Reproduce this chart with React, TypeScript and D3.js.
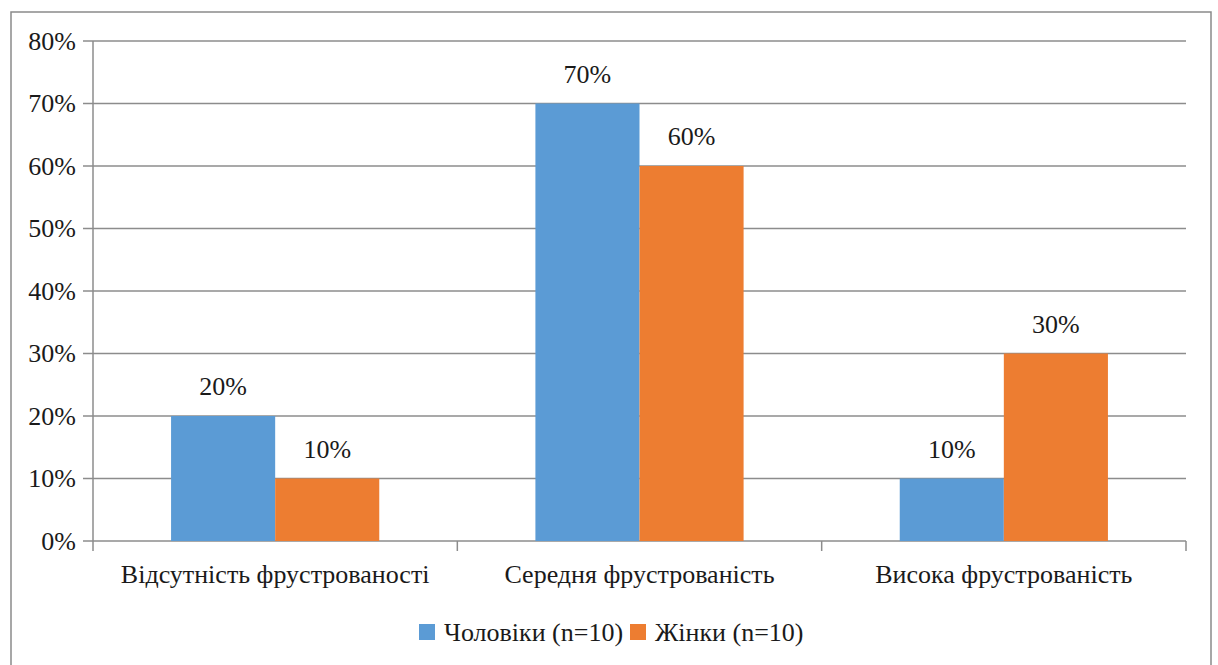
import React from "react";
import * as d3 from "d3";

const categories = ["Відсутність фрустрованості", "Середня фрустрованість", "Висока фрустрованість"];
const seriesNames = ["Чоловіки (n=10)", "Жінки (n=10)"];
const men = [0.2, 0.7, 0.1];
const women = [0.1, 0.6, 0.3];
const yTicks = [0, 0.1, 0.2, 0.3, 0.4, 0.5, 0.6, 0.7, 0.8];
const colors = ["#5B9BD5", "#ED7D31"];

const W = 1218;
const H = 665;
const margin = { left: 93, right: 32, top: 41, bottom: 124 };
const textStyle = { fontFamily: '"Liberation Serif"' };

export default function App() {
  const plotW = W - margin.left - margin.right;
  const plotH = H - margin.top - margin.bottom;
  const x = d3.scaleBand<string>().domain(categories).range([0, plotW]);
  const inner = d3
    .scaleBand<number>()
    .domain([0, 1])
    .range([0, x.bandwidth()])
    .paddingOuter(0.75)
    .paddingInner(0);
  const y = d3.scaleLinear().domain([0, 0.8]).range([plotH, 0]);
  const fmt = d3.format(".0%");
  const series = [men, women];
  const grid = "#8c8c8c";
  const fs = 26;
  const ink = "#1a1a1a";

  return (
    <svg width={W} height={H} style={{ position: "absolute", left: 0, top: 0, background: "#fff" }}>
      <rect x={11} y={12} width={1200} height={670} fill="#fff" stroke="#8a8a8a" strokeWidth={1.5} />
      <g transform={`translate(${margin.left},${margin.top})`}>
        {yTicks.map((t) => (
          <g key={t}>
            <line x1={-10} x2={plotW} y1={y(t)} y2={y(t)} stroke={grid} strokeWidth={1.5} />
            <text x={-17} y={y(t)} dy="0.33em" textAnchor="end" fontSize={fs} fill={ink} style={textStyle}>
              {fmt(t)}
            </text>
          </g>
        ))}
        <line x1={0} x2={0} y1={0} y2={plotH + 10} stroke={grid} strokeWidth={1.5} />
        {categories.map((c) => (
          <line key={c} x1={x(c)! + x.bandwidth()} x2={x(c)! + x.bandwidth()} y1={plotH} y2={plotH + 10} stroke={grid} strokeWidth={1.5} />
        ))}
        {categories.map((c, i) =>
          series.map((s, k) => {
            const bx = x(c)! + inner(k)!;
            return (
              <g key={c + k}>
                <rect x={bx} y={y(s[i])} width={inner.bandwidth()} height={plotH - y(s[i])} fill={colors[k]} />
                <text x={bx + inner.bandwidth() / 2} y={y(s[i]) - 21} textAnchor="middle" fontSize={fs} fill={ink} style={textStyle}>
                  {fmt(s[i])}
                </text>
              </g>
            );
          })
        )}
        {categories.map((c) => (
          <text key={c} x={x(c)! + x.bandwidth() / 2} y={plotH + 42} textAnchor="middle" fontSize={fs} fill={ink} style={textStyle}>
            {c}
          </text>
        ))}
      </g>
      <g>
        <rect x={419} y={624} width={16} height={16} fill={colors[0]} />
        <text x={444} y={641} fontSize={fs} fill={ink} style={textStyle}>{seriesNames[0]}</text>
        <rect x={630} y={624} width={16} height={16} fill={colors[1]} />
        <text x={655} y={641} fontSize={fs} fill={ink} style={textStyle}>{seriesNames[1]}</text>
      </g>
    </svg>
  );
}
